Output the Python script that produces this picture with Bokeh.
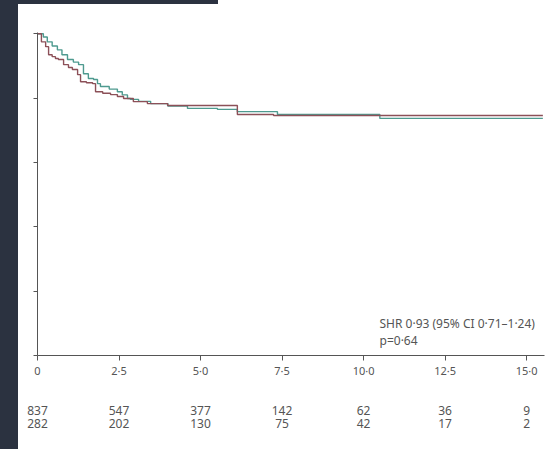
from bokeh.plotting import figure
from bokeh.models import (Label, FixedTicker, Range1d, Div, LinearAxis)
from bokeh.layouts import row, column
from bokeh.embed import file_html
from bokeh.resources import INLINE

# ---- data ----
t_red = [0, 0.12, 0.25, 0.34, 0.45, 0.55, 0.64, 0.80, 0.95, 1.07, 1.23, 1.32, 1.50, 1.69, 1.78,
         2.0, 2.24, 2.45, 2.64, 2.94, 3.37, 3.99, 6.13, 7.24, 10.5, 15.5]
v_red = [1.0, 0.975, 0.960, 0.935, 0.929, 0.923, 0.920, 0.904, 0.895, 0.889, 0.873, 0.851, 0.848,
         0.845, 0.820, 0.815, 0.811, 0.805, 0.799, 0.789, 0.783, 0.777, 0.749, 0.746, 0.746, 0.746]

t_cyan = [0, 0.18, 0.30, 0.45, 0.61, 0.75, 0.92, 1.10, 1.26, 1.41, 1.56, 1.72, 1.84, 1.93, 2.2,
          2.45, 2.6, 2.76, 2.85, 3.1, 3.47, 4.0, 4.6, 5.52, 6.13, 7.36, 10.5, 15.5]
v_cyan = [1.0, 0.99, 0.975, 0.962, 0.950, 0.935, 0.920, 0.912, 0.904, 0.876, 0.861, 0.858, 0.845,
          0.836, 0.828, 0.820, 0.810, 0.799, 0.796, 0.790, 0.783, 0.775, 0.768, 0.765, 0.758,
          0.749, 0.737, 0.737]

x_ticks = [0, 2.5, 5.0, 7.5, 10.0, 12.5, 15.0]
x_tick_labels = ["0", "2·5", "5·0", "7·5", "10·0", "12·5", "15·0"]
y_ticks = [0, 0.2, 0.4, 0.6, 0.8, 1.0]

risk_row1 = ["837", "547", "377", "142", "62", "36", "9"]
risk_row2 = ["282", "202", "130", "75", "42", "17", "2"]

stat_line1 = "SHR 0·93 (95% CI 0·71–1·24)"
stat_line2 = "p=0·64"

FONT = "Noto Sans"
TXT = "#555555"
DARK = "#2b3240"

p = figure(width=536, height=445, output_backend="svg", toolbar_location=None,
           x_range=Range1d(0, 15.55), y_range=Range1d(0, 1.004),
           min_border_left=19, min_border_right=10, min_border_top=28, min_border_bottom=94)
p.outline_line_color = None
p.background_fill_color = "white"
p.border_fill_color = "white"
p.grid.visible = False

p.step(t_cyan, v_cyan, mode="after", line_color="#4e9a8f", line_width=1.4)
p.step(t_red, v_red, mode="after", line_color="#8c5058", line_width=1.4)

xa = p.xaxis[0]
xa.ticker = FixedTicker(ticks=x_ticks)
xa.major_label_overrides = {k: v for k, v in zip(x_ticks, x_tick_labels)}
xa.axis_line_color = TXT
xa.major_tick_line_color = TXT
xa.major_tick_in = 0
xa.major_tick_out = 5
xa.minor_tick_line_color = None
xa.major_label_standoff = 2
xa.major_label_text_font = FONT
xa.major_label_text_font_size = "11px"
xa.major_label_text_color = TXT

# number-at-risk rows as extra tick-label rows below the axis
for labels, standoff in ((risk_row1, 25), (risk_row2, 1)):
    ax = LinearAxis(ticker=FixedTicker(ticks=x_ticks),
                    major_label_overrides={k: v for k, v in zip(x_ticks, labels)})
    ax.axis_line_color = None
    ax.major_tick_line_color = None
    ax.minor_tick_line_color = None
    ax.major_tick_in = 0
    ax.major_tick_out = 0
    ax.major_label_standoff = standoff
    ax.major_label_text_font = FONT
    ax.major_label_text_font_size = "12px"
    ax.major_label_text_color = TXT
    p.add_layout(ax, "below")

ya = p.yaxis[0]
ya.ticker = FixedTicker(ticks=y_ticks)
ya.major_label_overrides = {k: "" for k in y_ticks}
ya.axis_line_color = TXT
ya.major_tick_line_color = TXT
ya.major_tick_in = 0
ya.major_tick_out = 4
ya.minor_tick_line_color = None
ya.major_label_standoff = 0

p.add_layout(Label(x=10.49, y=0.099, text=stat_line1, text_baseline="middle",
                   text_font=FONT, text_font_size="12px", text_color=TXT))
p.add_layout(Label(x=10.49, y=0.046, text=stat_line2, text_baseline="middle",
                   text_font=FONT, text_font_size="12px", text_color=TXT))

left_strip = Div(width=18, height=449, margin=0, styles={"background-color": DARK})
top_strip = Div(width=200, height=4, margin=0, styles={"background-color": DARK})
layout = row(left_strip, column(top_strip, p, spacing=0, margin=0), spacing=0, margin=0)

open("out.html", "w").write(file_html(layout, INLINE))
